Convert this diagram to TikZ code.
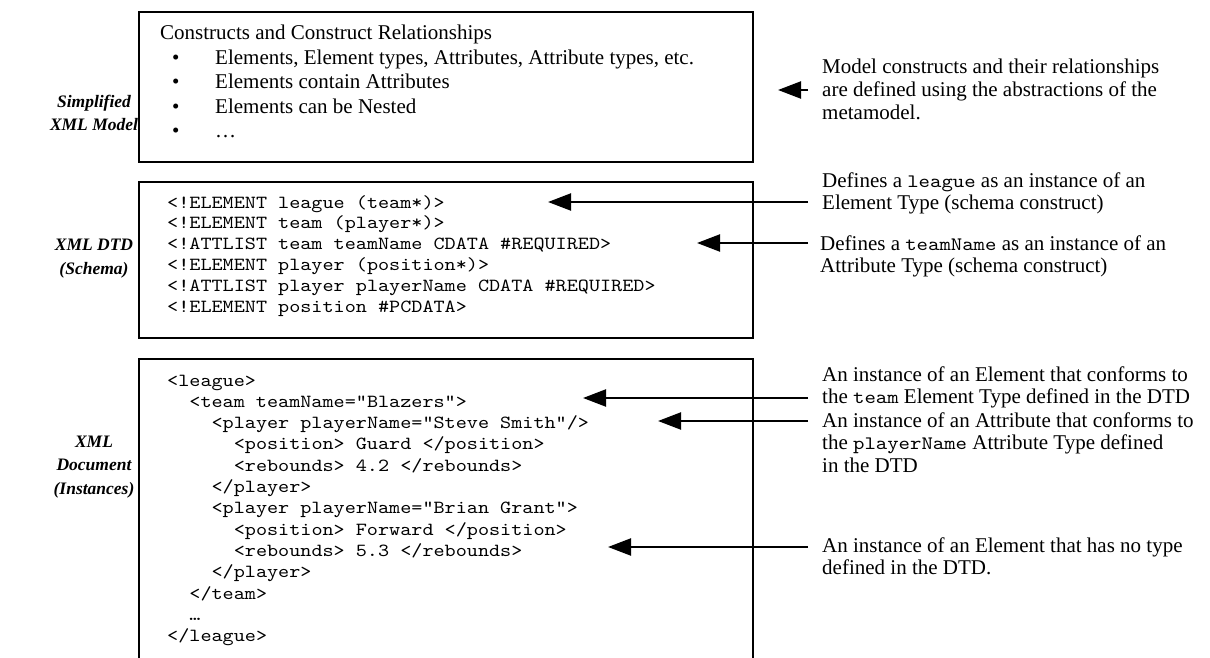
\documentclass[tikz,border=0pt]{standalone}
\usepackage{fontspec}
\setmainfont{Liberation Serif}
% a serifed typewriter face, widened to Courier's character width
\newfontfamily\codefont{lmmono10-regular.otf}[FakeStretch=1.143]
\usetikzlibrary{arrows.meta}
% bullet column of the construct list
\newcommand\bul{\hspace*{12pt}\makebox[43pt][l]{•}}
% code word inside a note
\newcommand\cw[1]{{\fontsize{19}{22.8}\selectfont\codefont #1}}
% indentation in code, two characters per level
\newcommand\ind[1]{\hspace*{#1em}}
\begin{document}
% multi-line nodes are placed by the baseline of their last line
\begin{tikzpicture}[x=1pt,y=-1pt,
  panel/.style={draw=black,line width=2.2pt},
  layerlabel/.style={font=\fontsize{17.5}{23.5}\selectfont\bfseries\itshape,align=center,inner sep=0pt},
  code/.style={font=\fontsize{18.5}{20.8}\selectfont\codefont,align=left,inner sep=0pt,anchor=base west},
  note/.style={font=\fontsize{21}{22.8}\selectfont,align=left,inner sep=0pt,anchor=base west},
  pointer/.style={line width=2.2pt,-{Triangle[length=23pt,width=17pt]}}]
\useasboundingbox (0,0) rectangle (1210,658);
\fill[white] (0,0) rectangle (1210,658);

% the three layers
\draw[panel] (139,12) rectangle (753,162);
\draw[panel] (139,182) rectangle (753,338);
\draw[panel] (139,658) -- (139,359) -- (753,359) -- (753,658);

% layer names
\node[layerlabel] (lmodel) at (94,113) {Simplified\\XML Model};
\node[layerlabel] (ldtd) at (94,258.5) {XML DTD\\(Schema)};
\node[layerlabel] (ldoc) at (94,467) {XML\\Document\\(Instances)};

% metamodel constructs
\node[note,font=\fontsize{21}{24.5}\selectfont] (constructs) at (160,138)
  {Constructs and Construct Relationships\\
   \bul Elements, Element types, Attributes, Attribute types, etc.\\
   \bul Elements contain Attributes\\
   \bul Elements can be Nested\\
   \bul …};

% schema
\node[code] (dtd) at (167,312)
  {<!ELEMENT league (team*)>\\
   <!ELEMENT team (player*)>\\
   <!ATTLIST team teamName CDATA \#REQUIRED>\\
   <!ELEMENT player (position*)>\\
   <!ATTLIST player playerName CDATA \#REQUIRED>\\
   <!ELEMENT position \#PCDATA>};

% instance document
\node[code,font=\fontsize{18.5}{21.3}\selectfont\codefont] (doc) at (167,641.6)
  {<league>\\
   \ind{1.2}<team teamName=”Blazers”>\\
   \ind{2.4}<player playerName=”Steve Smith”/>\\
   \ind{3.6}<position> Guard </position>\\
   \ind{3.6}<rebounds> 4.2 </rebounds>\\
   \ind{2.4}</player>\\
   \ind{2.4}<player playerName=”Brian Grant”>\\
   \ind{3.6}<position> Forward </position>\\
   \ind{3.6}<rebounds> 5.3 </rebounds>\\
   \ind{2.4}</player>\\
   \ind{1.2}</team>\\
   \ind{1.2}…\\
   </league>};

% explanations
\node[note] (n1) at (822,119.6) {Model constructs and their relationships\\are defined using the abstractions of the\\metamodel.};
\node[note] (n2) at (822,209.8) {Defines a \cw{league} as an instance of an\\Element Type (schema construct)};
\node[note] (n3) at (820,272.8) {Defines a \cw{teamName} as an instance of an\\Attribute Type (schema construct)};
\node[note] (n4) at (822,403.8) {An instance of an Element that conforms to\\the \cw{team} Element Type defined in the DTD};
\node[note] (n5) at (822,472.6) {An instance of an Attribute that conforms to\\the \cw{playerName} Attribute Type defined\\in the DTD};
\node[note] (n6) at (822,574.8) {An instance of an Element that has no type\\defined in the DTD.};

% arrow targets
\coordinate (t1) at (778,90);
\coordinate (t2) at (548,202);
\coordinate (t3) at (697,243);
\coordinate (t4) at (583,398);
\coordinate (t5) at (658,421);
\coordinate (t6) at (608,547);

\draw[pointer] ([xshift=-14pt]n1.west |- t1) -- (t1);
\draw[pointer] ([xshift=-14pt]n2.west |- t2) -- (t2);
\draw[pointer] ([xshift=-12pt]n3.west |- t3) -- (t3);
\draw[pointer] ([xshift=-14pt]n4.west |- t4) -- (t4);
\draw[pointer] ([xshift=-14pt]n5.west |- t5) -- (t5);
\draw[pointer] ([xshift=-14pt]n6.west |- t6) -- (t6);
\end{tikzpicture}
\end{document}
